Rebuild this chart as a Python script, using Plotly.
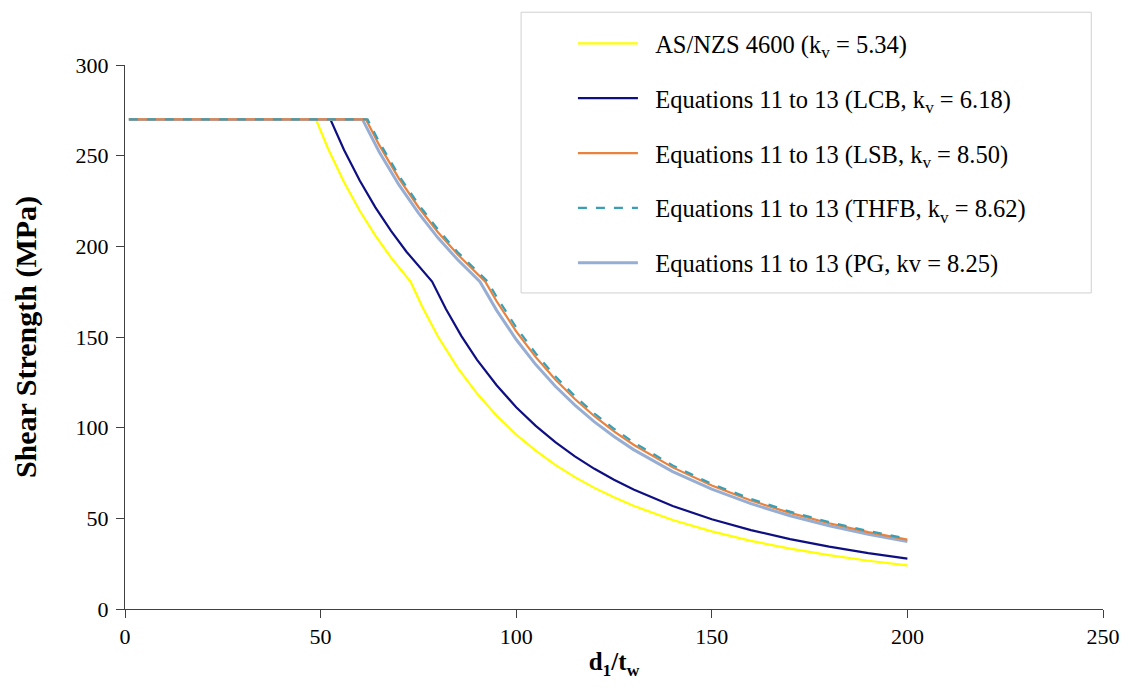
import plotly.graph_objects as go

# ---- data ----
x_asnzs = [1, 48.8, 52, 56, 60, 64, 68, 73, 76, 80, 85, 90, 95, 100, 105, 110, 115, 120, 125, 130, 140, 150, 160, 170, 180, 190, 200]
y_asnzs = [270, 270, 253.4, 235.3, 219.6, 205.9, 193.8, 180.5, 166.6, 150.3, 133.1, 118.8, 106.6, 96.2, 87.3, 79.5, 72.7, 66.8, 61.6, 56.9, 49.1, 42.8, 37.6, 33.3, 29.7, 26.6, 24.1]

x_lcb = [1, 52.5, 56, 60, 64, 68, 72, 76, 78.5, 82, 86, 90, 95, 100, 105, 110, 115, 120, 125, 130, 140, 150, 160, 170, 180, 190, 200]
y_lcb = [270, 270, 253.1, 236.3, 221.5, 208.5, 196.9, 186.5, 180.6, 165.6, 150.5, 137.4, 123.4, 111.3, 101.0, 92.0, 84.2, 77.3, 71.3, 65.9, 56.8, 49.5, 43.5, 38.5, 34.4, 30.8, 27.8]

x_lsb = [1, 61.6, 65, 70, 75, 80, 85, 92.1, 95, 100, 105, 110, 115, 120, 125, 130, 140, 150, 160, 170, 180, 190, 200]
y_lsb = [270, 270, 255.8, 237.5, 221.7, 207.8, 195.6, 180.5, 169.7, 153.1, 138.9, 126.6, 115.8, 106.3, 98.0, 90.6, 78.1, 68.1, 59.8, 53.0, 47.3, 42.4, 38.3]

x_thfb = [1, 62.0, 65, 70, 75, 80, 85, 92.75, 95, 100, 105, 110, 115, 120, 125, 130, 140, 150, 160, 170, 180, 190, 200]
y_thfb = [270, 270, 257.5, 239.1, 223.2, 209.3, 196.9, 180.5, 172.1, 155.3, 140.9, 128.3, 117.4, 107.8, 99.4, 91.9, 79.2, 69.0, 60.7, 53.7, 47.9, 43.0, 38.8]

x_pg = [1, 60.7, 65, 70, 75, 80, 85, 90.74, 95, 100, 105, 110, 115, 120, 125, 130, 140, 150, 160, 170, 180, 190, 200]
y_pg = [270, 270, 252.0, 234.0, 218.4, 204.7, 192.7, 180.5, 164.7, 148.6, 134.8, 122.8, 112.4, 103.2, 95.1, 87.9, 75.8, 66.1, 58.1, 51.4, 45.9, 41.2, 37.2]

names = [
    "AS/NZS 4600 (k<sub>v</sub> = 5.34)",
    "Equations 11 to 13 (LCB, k<sub>v</sub> = 6.18)",
    "Equations 11 to 13 (LSB, k<sub>v</sub> = 8.50)",
    "Equations 11 to 13 (THFB, k<sub>v</sub> = 8.62)",
    "Equations 11 to 13 (PG, kv = 8.25)",
]
x_ticks = [0, 50, 100, 150, 200, 250]
y_ticks = [0, 50, 100, 150, 200, 250, 300]

FONT = "Liberation Serif, Times New Roman, serif"
PAD = "\u00a0\u00a0"  # gap between legend sample and label

fig = go.Figure()
# draw order: yellow, navy, PG (under), orange, THFB dashed on top
fig.add_trace(go.Scatter(x=x_asnzs, y=y_asnzs, mode="lines", name=PAD + names[0],
                         line=dict(color="#FFFF00", width=2.2), legendrank=1, legendgroup="a"))
fig.add_trace(go.Scatter(x=x_lcb, y=y_lcb, mode="lines", name=PAD + names[1],
                         line=dict(color="#0F0F84", width=2.2), legendrank=2, legendgroup="b"))
fig.add_trace(go.Scatter(x=x_pg, y=y_pg, mode="lines", name=PAD + names[4],
                         line=dict(color="#97AED4", width=3), legendrank=5, legendgroup="e"))
fig.add_trace(go.Scatter(x=x_lsb, y=y_lsb, mode="lines", name=PAD + names[2],
                         line=dict(color="#E8823E", width=2.2), legendrank=3, legendgroup="c"))
fig.add_trace(go.Scatter(x=x_thfb, y=y_thfb, mode="lines", name=PAD + names[3],
                         line=dict(color="#3A9FB5", width=2.2, dash="dash"), legendrank=4, legendgroup="d"))

axis_color = "#404040"
fig.update_layout(
    width=1131, height=688,
    margin=dict(l=117, r=36, t=57, b=87),
    paper_bgcolor="white", plot_bgcolor="white",
    font=dict(family=FONT, size=20, color="black"),
    xaxis=dict(range=[0, 250], tickvals=x_ticks, showgrid=False, zeroline=False,
               showline=True, linecolor=axis_color, linewidth=1,
               ticks="outside", ticklen=8, tickcolor=axis_color,
               tickfont=dict(family=FONT, size=22),
               title=dict(text="<b>d<sub>1</sub>/t<sub>w</sub></b>", font=dict(family=FONT, size=25), standoff=4)),
    yaxis=dict(range=[0, 300], tickvals=y_ticks, showgrid=False, zeroline=False,
               showline=True, linecolor=axis_color, linewidth=1,
               ticks="outside", ticklen=8, tickcolor=axis_color,
               tickfont=dict(family=FONT, size=22), ticklabelstandoff=3,
               title=dict(text="<b>Shear Strength (MPa)</b>", font=dict(family=FONT, size=30), standoff=30)),
    legend=dict(x=0.458, y=1.081, xanchor="left", yanchor="top",
                bgcolor="rgba(0,0,0,0)", borderwidth=0,
                font=dict(family=FONT, size=24.5, color="black"),
                traceorder="grouped", tracegroupgap=20, itemwidth=60),
    shapes=[dict(type="rect", xref="paper", yref="paper",
                 x0=0.405, x1=0.988, y0=0.581, y1=1.097,
                 line=dict(color="#D0D0D0", width=1), fillcolor="white", layer="below")],
    showlegend=True,
)

fig.write_html("out.html")
